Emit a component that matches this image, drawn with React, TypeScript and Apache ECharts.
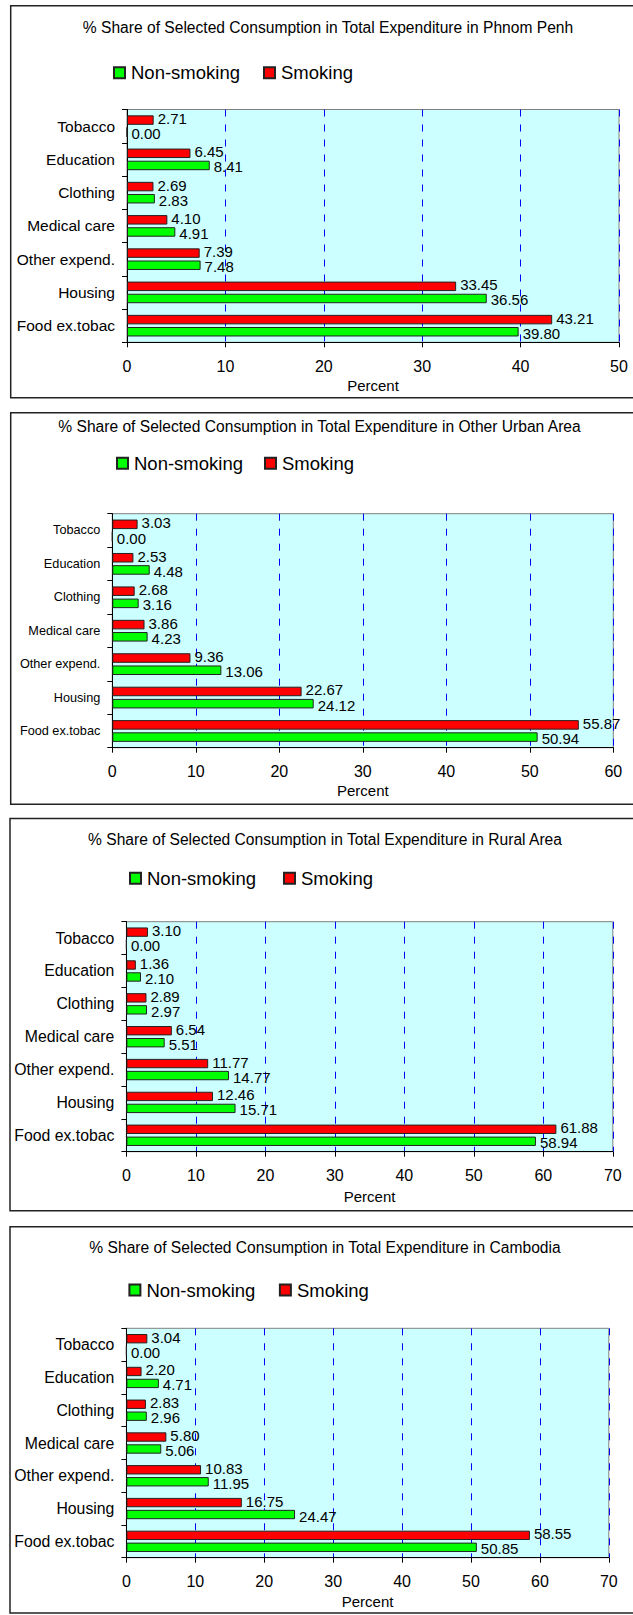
import React, { useEffect, useRef } from "react";
import * as echarts from "echarts";

// Expenditure categories, listed top to bottom as they appear on each chart
const categories = [
  "Tobacco",
  "Education",
  "Clothing",
  "Medical care",
  "Other expend.",
  "Housing",
  "Food ex.tobac",
];

// % share of total expenditure, by household type
const phnomPenhNonSmoking = [0.0, 8.41, 2.83, 4.91, 7.48, 36.56, 39.8];
const phnomPenhSmoking = [2.71, 6.45, 2.69, 4.1, 7.39, 33.45, 43.21];

const otherUrbanNonSmoking = [0.0, 4.48, 3.16, 4.23, 13.06, 24.12, 50.94];
const otherUrbanSmoking = [3.03, 2.53, 2.68, 3.86, 9.36, 22.67, 55.87];

const ruralNonSmoking = [0.0, 2.1, 2.97, 5.51, 14.77, 15.71, 58.94];
const ruralSmoking = [3.1, 1.36, 2.89, 6.54, 11.77, 12.46, 61.88];

const cambodiaNonSmoking = [0.0, 4.71, 2.96, 5.06, 11.95, 24.47, 50.85];
const cambodiaSmoking = [3.04, 2.2, 2.83, 5.8, 10.83, 16.75, 58.55];

const chartTitles = [
  "% Share of Selected Consumption in Total Expenditure in Phnom Penh",
  "% Share of Selected Consumption in Total Expenditure in Other Urban Area",
  "% Share of Selected Consumption in Total Expenditure in Rural Area",
  "% Share of Selected Consumption in Total Expenditure in Cambodia",
];

const nonSmokingSets = [phnomPenhNonSmoking, otherUrbanNonSmoking, ruralNonSmoking, cambodiaNonSmoking];
const smokingSets = [phnomPenhSmoking, otherUrbanSmoking, ruralSmoking, cambodiaSmoking];

const axisMaxima = [50, 60, 70, 70];
const tickStep = 10;
const axisName = "Percent";
const legendNames = ["Non-smoking", "Smoking"];

// Page layout of the four stacked chart frames
const layouts = [
  {
    frameTop: 5.7, frameBottom: 397.7, frameLeft: 10.7,
    titleX: 328, titleY: 27,
    legendLeft: 113, legendY: 72.7, legendGap: 23,
    grid: { left: 127, top: 109.5, width: 492, height: 232.8 },
    catFont: 15.5, nameGap: 36,
  },
  {
    frameTop: 412.7, frameBottom: 804.3, frameLeft: 10.7,
    titleX: 319.5, titleY: 426,
    legendLeft: 116, legendY: 463.3, legendGap: 21,
    grid: { left: 112.3, top: 513.7, width: 501, height: 234 },
    catFont: 12.7, nameGap: 35,
  },
  {
    frameTop: 818.5, frameBottom: 1210.7, frameLeft: 10,
    titleX: 325, titleY: 839.3,
    legendLeft: 129, legendY: 878.3, legendGap: 27,
    grid: { left: 126.4, top: 921.7, width: 486.4, height: 230 },
    catFont: 15.8, nameGap: 37,
  },
  {
    frameTop: 1226.7, frameBottom: 1613, frameLeft: 10,
    titleX: 325, titleY: 1247.7,
    legendLeft: 128.4, legendY: 1290, legendGap: 23.5,
    grid: { left: 126.4, top: 1328.3, width: 482.4, height: 229.4 },
    catFont: 15.8, nameGap: 36,
  },
];

const FONT = "'Liberation Sans', Arial, Helvetica, sans-serif";
const RED = "#FF0000";
const GREEN = "#00FF00";

// Value labels sit just right of each bar; the pair in a category is nudged apart slightly
const valueLabel = (dy: number) => ({
  show: true,
  position: "right",
  distance: 4,
  offset: [0, dy],
  fontFamily: FONT,
  fontSize: 15,
  lineHeight: 12,
  color: "#000000",
  formatter: (p: any) => Number(p.value).toFixed(2),
});

export default function App() {
  const ref = useRef<HTMLDivElement>(null);

  useEffect(() => {
    if (!ref.current) return;
    const chart = echarts.init(ref.current, undefined, { renderer: "svg" });

    const grids: any[] = [];
    const xAxes: any[] = [];
    const yAxes: any[] = [];
    const series: any[] = [];
    const legends: any[] = [];
    const graphics: any[] = [];

    layouts.forEach((L, i) => {
      graphics.push({
        type: "rect",
        silent: true,
        z: -10,
        shape: { x: L.frameLeft, y: L.frameTop, width: 700, height: L.frameBottom - L.frameTop },
        style: { fill: "#FFFFFF", stroke: "#222222", lineWidth: 1.5 },
      });
      graphics.push({
        type: "text",
        silent: true,
        x: L.titleX,
        y: L.titleY,
        style: {
          text: chartTitles[i],
          fontFamily: FONT,
          fontSize: 15.6,
          fill: "#000000",
          textAlign: "center",
          textVerticalAlign: "middle",
        },
      });

      grids.push({
        left: L.grid.left,
        top: L.grid.top,
        width: L.grid.width,
        height: L.grid.height,
        show: true,
        backgroundColor: "#CCFFFF",
        borderColor: "#808080",
        borderWidth: 1,
        containLabel: false,
      });

      xAxes.push({
        type: "value",
        gridIndex: i,
        min: 0,
        max: axisMaxima[i],
        interval: tickStep,
        name: axisName,
        nameLocation: "middle",
        nameGap: L.nameGap,
        nameTextStyle: { fontFamily: FONT, fontSize: 15, color: "#000000" },
        axisLine: { show: true, lineStyle: { color: "#000000", width: 1 } },
        axisTick: { show: true, length: 5, lineStyle: { color: "#000000" } },
        axisLabel: { fontFamily: FONT, fontSize: 16, color: "#000000", margin: 16 },
        splitLine: {
          show: true,
          lineStyle: { color: "#0000FF", width: 1, type: [7, 8] },
        },
      });

      yAxes.push({
        type: "category",
        gridIndex: i,
        data: categories,
        inverse: true,
        axisLine: { show: true, lineStyle: { color: "#000000", width: 1 } },
        axisTick: { show: true, length: 5, lineStyle: { color: "#000000" } },
        axisLabel: { fontFamily: FONT, fontSize: L.catFont, color: "#000000", margin: 12 },
        splitLine: { show: false },
      });

      series.push({
        name: "Smoking",
        type: "bar",
        xAxisIndex: i,
        yAxisIndex: i,
        data: smokingSets[i],
        barCategoryGap: "35%",
        barGap: "28%",
        itemStyle: { color: RED, borderColor: "#222222", borderWidth: 1 },
        label: valueLabel(-1.5),
      });
      series.push({
        name: "Non-smoking",
        type: "bar",
        xAxisIndex: i,
        yAxisIndex: i,
        data: nonSmokingSets[i],
        barCategoryGap: "35%",
        barGap: "28%",
        itemStyle: { color: GREEN, borderColor: "#222222", borderWidth: 1 },
        label: valueLabel(1.5),
      });

      legends.push({
        data: legendNames,
        left: L.legendLeft,
        top: L.legendY - 9.5,
        padding: 0,
        icon: "rect",
        itemWidth: 11,
        itemHeight: 11,
        itemGap: L.legendGap,
        selectedMode: false,
        textStyle: { fontFamily: FONT, fontSize: 18.5, color: "#000000", padding: [0, 0, 0, 1] },
      });
    });

    chart.setOption({
      animation: false,
      backgroundColor: "#FFFFFF",
      textStyle: { fontFamily: FONT },
      grid: grids,
      xAxis: xAxes,
      yAxis: yAxes,
      legend: legends,
      series,
      graphic: graphics,
    });

    return () => chart.dispose();
  }, []);

  return (
    <div
      ref={ref}
      style={{ position: "absolute", left: 0, top: 0, width: 633, height: 1615 }}
    />
  );
}
